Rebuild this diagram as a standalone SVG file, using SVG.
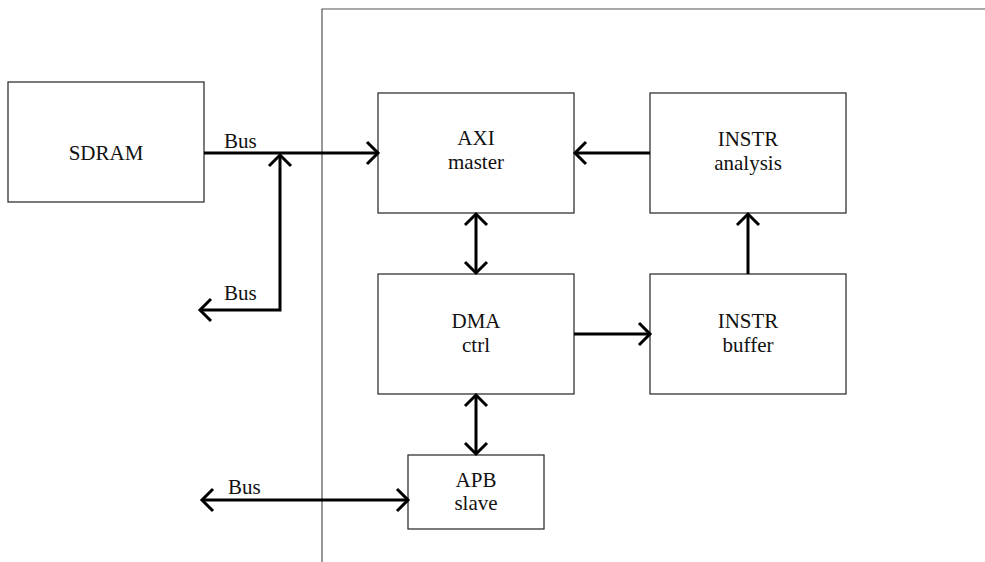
<svg xmlns="http://www.w3.org/2000/svg" width="985" height="562" viewBox="0 0 985 562">
  <defs>
    <style>
      .box { fill: #ffffff; stroke: #333333; stroke-width: 1.3; }
      .frame { fill: none; stroke: #555555; stroke-width: 1.2; }
      text { font-family: 'Liberation Serif', 'Times New Roman', serif; font-size: 21px; fill: #111111; }
      .label { text-anchor: middle; }
      .wire { fill: none; stroke: #000000; stroke-width: 3; stroke-linejoin: miter; }
      .arrow { marker-end: url(#head); }
      .both { marker-start: url(#head); marker-end: url(#head); }
    </style>
    <marker id="head" markerUnits="userSpaceOnUse" markerWidth="20" markerHeight="26" refX="14" refY="13" orient="auto-start-reverse" viewBox="0 0 20 26">
      <path d="M3,2 L14,13 L3,24" fill="none" stroke="#000000" stroke-width="3"/>
    </marker>
  </defs>

  <rect x="0" y="0" width="985" height="562" fill="#ffffff"/>

  <!-- chip boundary -->
  <path class="frame" d="M322,562 L322,9 L985,9"/>

  <g id="sdram">
    <rect class="box" x="8" y="82" width="196" height="120"/>
    <text class="label" x="106" y="160">SDRAM</text>
  </g>

  <g id="axi-master">
    <rect class="box" x="378" y="93" width="196" height="120"/>
    <text class="label" x="476" y="145">AXI</text>
    <text class="label" x="476" y="169">master</text>
  </g>

  <g id="instr-analysis">
    <rect class="box" x="650" y="93" width="196" height="120"/>
    <text class="label" x="748" y="146">INSTR</text>
    <text class="label" x="748" y="170">analysis</text>
  </g>

  <g id="dma-ctrl">
    <rect class="box" x="378" y="274" width="196" height="120"/>
    <text class="label" x="476" y="328">DMA</text>
    <text class="label" x="476" y="352">ctrl</text>
  </g>

  <g id="instr-buffer">
    <rect class="box" x="650" y="274" width="196" height="120"/>
    <text class="label" x="748" y="328">INSTR</text>
    <text class="label" x="748" y="352">buffer</text>
  </g>

  <g id="apb-slave">
    <rect class="box" x="408" y="455" width="136" height="74"/>
    <text class="label" x="476" y="487">APB</text>
    <text class="label" x="476" y="510">slave</text>
  </g>

  <g id="connectors">
    <!-- SDRAM bus into AXI master -->
    <path class="wire arrow" d="M204,153 L378,153"/>
    <!-- branch bus going out to the left -->
    <path class="wire both" d="M280,155 L280,310 L200,310"/>
    <!-- AXI master <-> DMA ctrl -->
    <path class="wire both" d="M476,214 L476,273"/>
    <!-- INSTR analysis -> AXI master -->
    <path class="wire arrow" d="M650,153 L575,153"/>
    <!-- INSTR buffer -> INSTR analysis -->
    <path class="wire arrow" d="M748,274 L748,214"/>
    <!-- DMA ctrl -> INSTR buffer -->
    <path class="wire arrow" d="M574,334 L650,334"/>
    <!-- DMA ctrl <-> APB slave -->
    <path class="wire both" d="M476,395 L476,454"/>
    <!-- APB bus -->
    <path class="wire both" d="M202,500 L408,500"/>
  </g>

  <g id="bus-labels">
    <text x="224" y="148">Bus</text>
    <text x="224" y="300">Bus</text>
    <text x="228" y="494">Bus</text>
  </g>
</svg>
